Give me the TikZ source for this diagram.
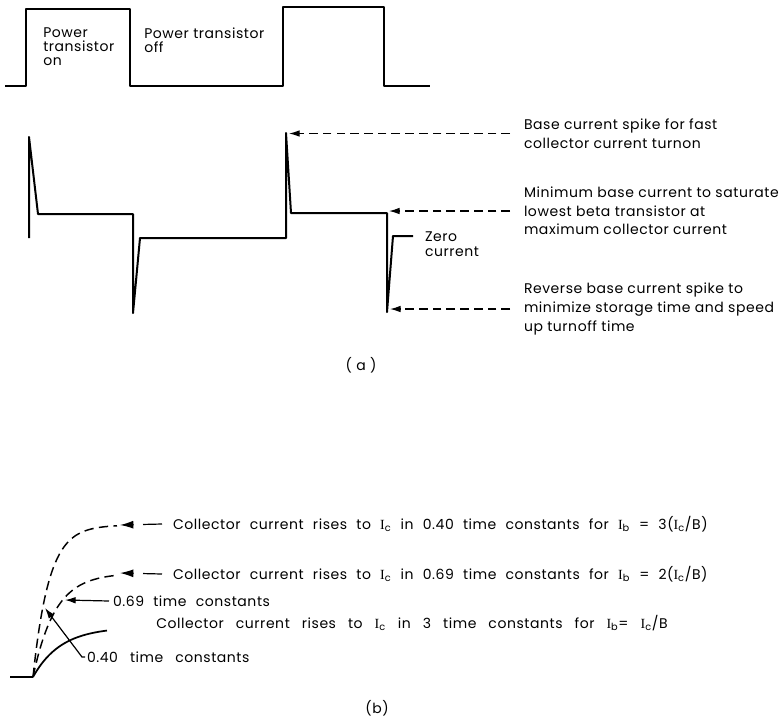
\documentclass[tikz,border=0pt]{standalone}
\usepackage{fontspec}
\setmainfont{Poppins}[LetterSpace=4]
\newfontfamily\serifI{Liberation Serif}
\usetikzlibrary{arrows.meta}
\newcommand\Isub[1]{{\serifI I}\textsubscript{#1}}
\newcommand\wsA{\spaceskip=6.9pt plus 1pt\relax}
\newcommand\wsB{\spaceskip=9pt plus 1pt\relax}
\newcommand\wsC{\spaceskip=9pt plus 1pt\relax}
\begin{document}
\begin{tikzpicture}[x=0.75pt,y=-0.75pt]
\tikzset{
 wave/.style={line width=1.5pt, line join=round},
 lbl/.style={inner sep=0pt, align=left, anchor=west, font=\fontsize{10.5}{13.9}\selectfont},
 toplbl/.style={inner sep=0pt, align=left, anchor=west, font=\fontsize{10.5}{10.5}\selectfont},
 dasharr/.style={line width=0.9pt, dash pattern=on 6.5pt off 3.8pt, -{Latex[length=8pt,width=5pt]}},
 longdash/.style={line width=0.9pt, dash pattern=on 14.25pt off 7pt, -{Latex[length=10pt,width=6pt]}},
 solarr/.style={line width=0.9pt, -{Latex[length=8pt,width=5pt]}},
 curve/.style={line width=1.3pt},
 dcurve/.style={line width=1.1pt, dash pattern=on 7pt off 4pt},
}
\useasboundingbox (0,0) rectangle (782,719);
% top waveform
\draw[wave] (5,86) -- (26,86) -- (26,9) -- (130,9) -- (130,86) -- (283,86) -- (283,7) -- (384,7) -- (384,86) -- (430,86);
\node[toplbl] (on) at (43,47) {Power\\transistor\\on};
\node[toplbl] (off) at (144,40) {Power transistor\\off};
% base current waveform
\coordinate (pk1) at (289,134);
\coordinate (lvl) at (389,212);
\coordinate (pk2) at (390,311);
\coordinate (zero) at (413,236);
\draw[wave] (29,238) -- (29,137) -- (38,214) -- (133,214) -- (133,313) -- (140,238) -- (286,238) -- (286,133) -- (291,213) -- (387,213) -- (387,312) -- (393,236) -- (zero);
\node[lbl, outer xsep=10.5pt] (tBase) at (510,133.5) {Base current spike for fast\\collector current turnon};
\node[lbl, outer xsep=10.5pt] (tMin) at (510,211) {Minimum base current to saturate\\lowest beta transistor at\\maximum collector current};
\node[lbl, font=\fontsize{10.5}{11.25}\selectfont, outer xsep=6pt] (tZero) at (417,244.5) {Zero\\current};
\node[lbl, outer xsep=10.5pt] (tRev) at (510,309) {Reverse base current spike to\\minimize storage time and speed\\up turnoff time};
\draw[dasharr] (tBase.west) -- (tBase.west -| pk1);
\draw[dasharr] (tMin.west) -- (tMin.west -| lvl);
\draw[dasharr] (tRev.west) -- (tRev.west -| pk2);
\node[inner sep=0pt, font=\fontsize{10.5}{12}\selectfont] (la) at (361,365) {( a )};
% part b
\coordinate (O) at (33,677);
\coordinate (st) at (10,677);
\draw[curve] (st) -- (O);
\draw[dcurve] plot[domain=0:84, samples=80] ({33+\x},{677-152*(1-exp(-\x/16))});
\draw[dcurve] plot[domain=0:84, samples=80] ({33+\x},{677-104*(1-exp(-\x/22))});
\draw[curve] plot[domain=0:74, samples=80] ({33+\x},{677-50*(1-exp(-\x/28))});
\coordinate (e040) at (120,525);
\coordinate (e069) at (120,573);
\coordinate (a069) at (65,600);
\coordinate (a040) at (45,608);
\node[lbl, outer xsep=8.25pt] (l040) at (162,524) {\wsA Collector current rises to \Isub{c} in 0.40 time constants for \Isub{b} = 3(\Isub{c}/B)};
\node[lbl, outer xsep=8.25pt] (l069) at (162,574) {\wsA Collector current rises to \Isub{c} in 0.69 time constants for \Isub{b} = 2(\Isub{c}/B)};
\node[lbl, outer xsep=3pt] (t069) at (109,601) {\wsA 0.69 time constants};
\node[lbl] (l3) at (156,623) {\wsB Collector current rises to \Isub{c} in 3 time constants for \Isub{b}= \Isub{c}/B};
\node[lbl, outer xsep=1.5pt] (t040) at (85,657) {\wsC 0.40 time constants};
\draw[longdash] (l040.west) -- (e040);
\draw[longdash] (l069.west) -- (e069);
\draw[solarr] (t069.west) -- (a069);
\draw[solarr] (t040.west) -- ++(-3,0) -- (a040);
\node[inner sep=0pt, font=\fontsize{10.5}{12}\selectfont] (lb) at (377,708) {(b)};
\end{tikzpicture}
\end{document}
